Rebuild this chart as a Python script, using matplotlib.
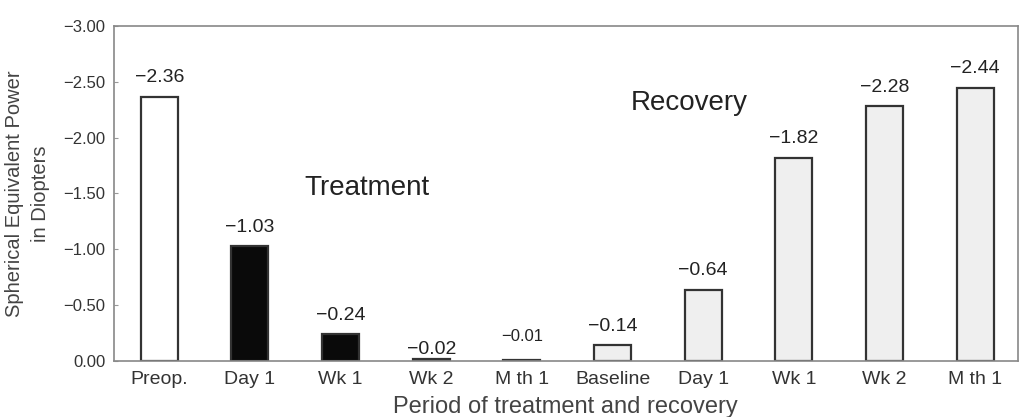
import numpy as np
import matplotlib.pyplot as plt
from matplotlib.ticker import FuncFormatter

plt.rcParams['font.family'] = ['Liberation Sans', 'DejaVu Sans']

# Daten aus der Abbildung
perioden = ["Preop.", "Day 1", "Wk 1", "Wk 2", "M th 1",
            "Baseline", "Day 1", "Wk 1", "Wk 2", "M th 1"]
werte = [-2.36, -1.03, -0.24, -0.02, -0.01,
         -0.14, -0.64, -1.82, -2.28, -2.44]
phase = ["preop", "treat", "treat", "treat", "treat",
         "recov", "recov", "recov", "recov", "recov"]

farben = {"preop": "white", "treat": "#0a0a0a", "recov": "#efefef"}

# Abstand der Beschriftung über dem Balken (Punkte), Schriftgröße
label_abstand = [14.4, 13, 13.5, 7, 17, 14, 14, 14, 13.5, 14.4]
label_groesse = [14, 14, 14, 14, 12, 14, 14, 14, 14, 14]

x = np.arange(len(werte))

fig = plt.figure(figsize=(10.26, 4.17), dpi=100)
ax = fig.add_axes([0.111, 0.134, 0.881, 0.804])

ax.bar(x, werte, width=0.41,
       color=[farben[p] for p in phase],
       edgecolor="#333333", linewidth=1.6, zorder=2)

for xi, v, off, fs in zip(x, werte, label_abstand, label_groesse):
    ax.annotate(f"{v:.2f}".replace("-", "\u2212"), (xi, v),
                xytext=(0, off), textcoords="offset points",
                ha="center", va="center", fontsize=fs, color="#222222")

ax.text(2.29, -1.55, "Treatment", ha="center", va="center",
        fontsize=20, color="#222222")
ax.text(5.85, -2.31, "Recovery", ha="center", va="center",
        fontsize=20, color="#222222")

ax.set_xlim(-0.5, 9.47)
ax.set_ylim(0, -3.0)
ax.set_yticks(np.arange(0, -3.01, -0.5))
ax.yaxis.set_major_formatter(
    FuncFormatter(lambda v, p: f"{v:.2f}".replace("-", "\u2212") if v != 0 else "0.00"))

ax.set_xticks(x)
ax.set_xticklabels(perioden, fontsize=14, color="#333333")
ax.tick_params(axis="x", length=0, pad=7)
ax.tick_params(axis="y", direction="in", length=3, color="#999999",
               labelsize=12, labelcolor="#333333", pad=6)

for s in ax.spines.values():
    s.set_color("#888888")
    s.set_linewidth(1.2)

ax.set_ylabel("Spherical Equivalent Power\nin Diopters", fontsize=14.5,
              color="#444444", linespacing=1.45, labelpad=10)
ax.set_xlabel("Period of treatment and recovery", fontsize=17,
              color="#444444", labelpad=6)

fig.savefig("out.png", dpi=100)
